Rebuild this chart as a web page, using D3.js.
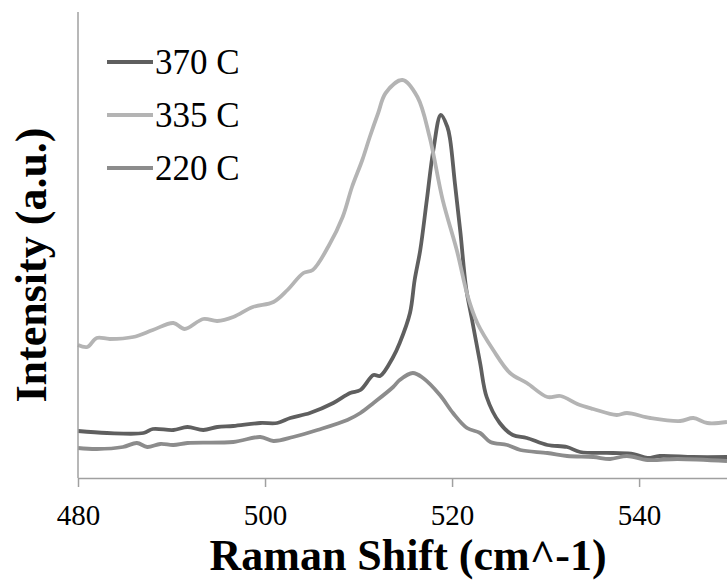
<!DOCTYPE html>
<html>
<head>
<meta charset="utf-8">
<script src="https://cdn.jsdelivr.net/npm/d3@7"></script>
<style>
  body { margin: 0; background: #fff; }
  svg { display: block; }
  svg text { font-family: "Liberation Serif", "Times New Roman", serif; }
</style>
</head>
<body>
<div class="chart-area"></div>
<script>
// Raman spectra (intensity in arbitrary units)
const seriesNames = ["370 C", "335 C", "220 C"];
const seriesColors = ["#5f5f5f", "#b4b4b4", "#8c8c8c"];
const xTicks = [480, 500, 520, 540];

const shift370 = [480.0, 483.1, 487.0, 488.0, 490.2, 491.7, 493.4, 494.9, 496.6, 499.5, 501.3, 502.7, 504.8, 507.3, 509.1, 510.2, 511.6, 512.3, 513.7, 514.4, 515.5, 516.0, 516.6, 517.3, 518.0, 518.8, 519.5, 519.8, 520.3, 520.9, 521.5, 522.1, 523.0, 523.7, 525.1, 526.5, 528.0, 530.2, 532.3, 533.7, 537.2, 539.4, 540.9, 542.2, 545.8, 549.4];
const int370 = [47, 45, 45, 49, 48, 51, 48, 51, 52, 55, 55, 60, 65, 75, 85, 88, 103, 102, 121, 135, 165, 198, 228, 278, 328, 363, 351, 338, 295, 245, 190, 160, 115, 81, 55, 43, 40, 33, 31, 26, 25, 24, 20, 22, 21, 21];

const shift335 = [480.0, 481.0, 482.0, 483.4, 485.9, 488.0, 490.2, 491.4, 493.4, 494.9, 496.6, 498.7, 500.9, 502.4, 504.1, 505.1, 506.8, 508.3, 509.3, 510.4, 511.2, 512.1, 512.9, 514.7, 516.3, 517.6, 519.0, 520.5, 521.7, 522.7, 524.4, 526.2, 528.0, 530.2, 531.6, 533.4, 535.1, 537.6, 538.7, 541.2, 544.4, 545.8, 547.3, 549.4];
const int335 = [133, 131, 140, 139, 141, 148, 155, 149, 159, 157, 161, 171, 176, 188, 205, 208, 232, 261, 291, 318, 341, 365, 385, 398, 381, 341, 278, 228, 181, 155, 128, 105, 95, 81, 82, 74, 69, 63, 65, 60, 57, 60, 55, 56];

const shift220 = [480.0, 482.0, 484.8, 486.3, 487.4, 488.8, 490.2, 491.7, 496.6, 499.5, 500.9, 503.0, 505.6, 508.8, 510.2, 511.6, 513.7, 514.4, 515.8, 516.9, 518.7, 520.1, 521.6, 523.0, 524.1, 525.9, 527.3, 530.2, 532.3, 535.1, 536.9, 538.7, 540.9, 544.1, 549.4];
const int220 = [30, 29, 31, 35, 31, 34, 33, 35, 36, 41, 37, 41, 48, 58, 65, 75, 91, 98, 105, 100, 83, 65, 50, 45, 36, 33, 28, 25, 22, 21, 19, 22, 18, 19, 17];

const shifts = [shift370, shift335, shift220];
const intensities = [int370, int335, int220];

const width = 727, height = 581;
const margin = { top: 12, right: 0, bottom: 103, left: 78 };
const serif = "'Liberation Serif', 'Times New Roman', serif";

const svg = d3.select(".chart-area")
  .append("svg")
  .attr("width", width)
  .attr("height", height);

const x = d3.scaleLinear()
  .domain([480, 549.4])
  .range([margin.left, width - margin.right]);

const y = d3.scaleLinear()
  .domain([0, 466])
  .range([height - margin.bottom, margin.top]);

// curves
const line = d3.line()
  .x((d) => x(d[0]))
  .y((d) => y(d[1]))
  .curve(d3.curveCatmullRom.alpha(0.5));

const plot = svg.append("g");
seriesNames.forEach((name, i) => {
  const pts = shifts[i].map((s, j) => [s, intensities[i][j]]);
  plot.append("path")
    .datum(pts)
    .attr("fill", "none")
    .attr("stroke", seriesColors[i])
    .attr("stroke-width", 3.8)
    .attr("stroke-linejoin", "round")
    .attr("d", line);
});

// axes
const axisColor = "#a0a0a0";
svg.append("line")
  .attr("x1", x(480)).attr("x2", x(480))
  .attr("y1", y(466)).attr("y2", y(0))
  .attr("stroke", axisColor).attr("stroke-width", 1.5);

const xAxis = svg.append("g")
  .attr("transform", `translate(0,${y(0)})`)
  .call(d3.axisBottom(x).tickValues(xTicks).tickSize(9).tickSizeOuter(0))
  .attr("font-family", serif)
  .attr("font-size", 29);
xAxis.select(".domain").attr("stroke", axisColor).attr("stroke-width", 1.5);
xAxis.selectAll(".tick line").attr("stroke", axisColor).attr("stroke-width", 1.5);
xAxis.selectAll(".tick text")
  .attr("fill", "#000")
  .style("font-family", serif)
  .style("font-size", "29px")
  .attr("y", 47)
  .attr("dy", 0);

// axis titles
svg.append("text")
  .attr("x", 408)
  .attr("y", 570)
  .attr("text-anchor", "middle")
  .style("font-family", serif)
  .attr("font-weight", "bold")
  .attr("font-size", 44)
  .text("Raman Shift (cm^-1)");

svg.append("text")
  .attr("transform", "translate(46,265) rotate(-90)")
  .attr("text-anchor", "middle")
  .style("font-family", serif)
  .attr("font-weight", "bold")
  .attr("font-size", 44)
  .text("Intensity (a.u.)");

// legend
const legend = svg.append("g")
  .selectAll("g")
  .data(seriesNames)
  .enter()
  .append("g")
  .attr("transform", (d, i) => `translate(107,${62 + i * 53})`);

legend.append("line")
  .attr("x1", 0).attr("x2", 46)
  .attr("stroke", (d, i) => seriesColors[i])
  .attr("stroke-width", 3.8);

legend.append("text")
  .attr("x", 48)
  .attr("y", 12)
  .style("font-family", serif)
  .attr("font-size", 35)
  .text((d) => d);
</script>
</body>
</html>
